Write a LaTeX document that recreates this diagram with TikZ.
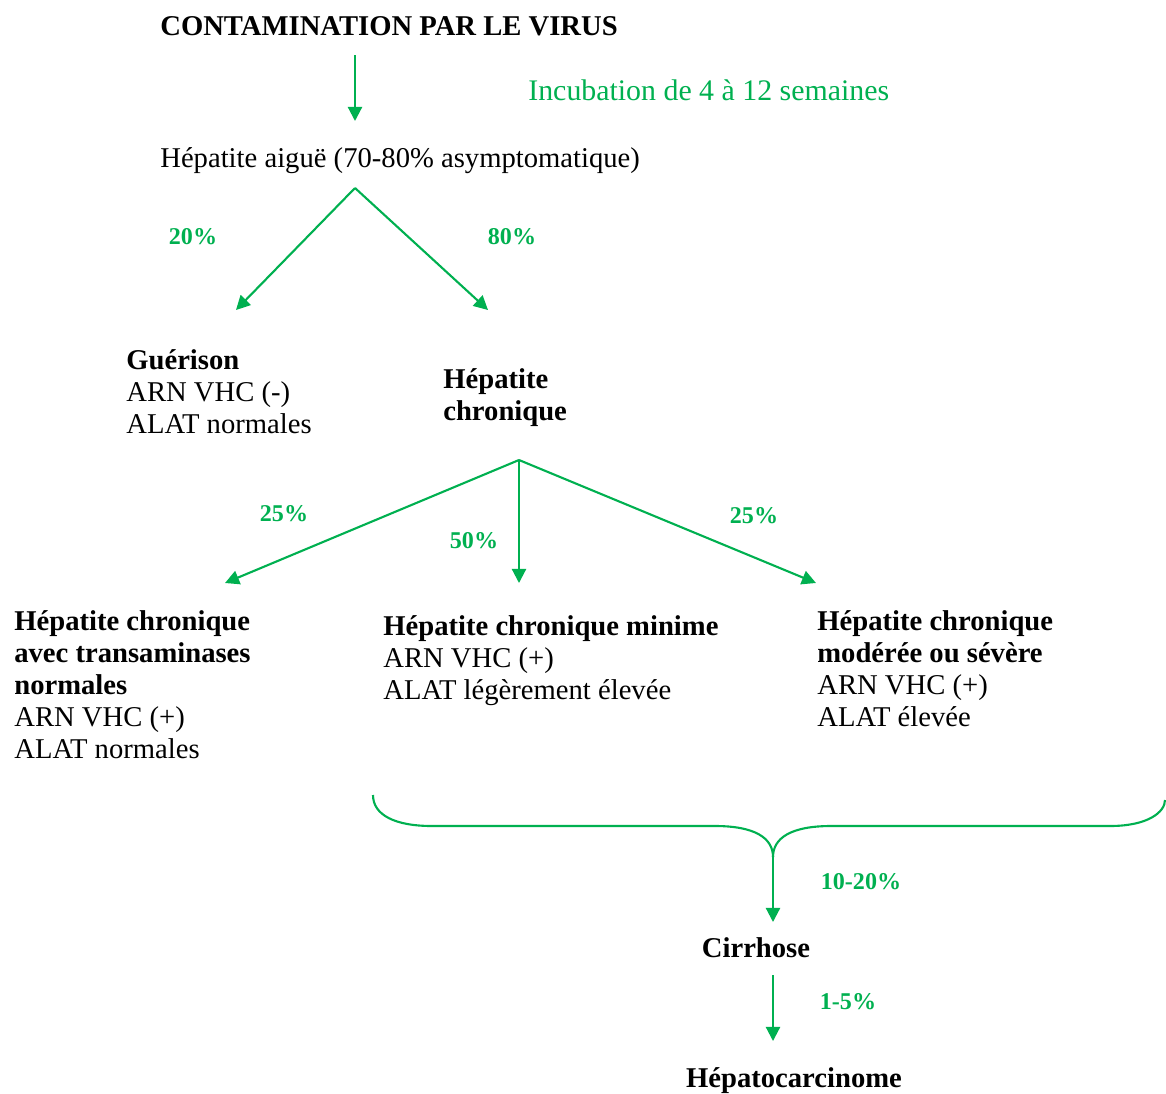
\documentclass[tikz,border=0pt]{standalone}
\usepackage{fontspec}
\setmainfont{Liberation Serif}
\usetikzlibrary{arrows.meta}
\definecolor{vert}{HTML}{00B050}
\tikzset{
  arr/.style={draw=vert, line width=1.2pt, -{Triangle[length=8pt,width=8pt]}},
  txt/.style={font=\fontsize{16.3}{18.2}\selectfont, inner sep=0pt, align=left},
  btxt/.style={txt, font=\fontsize{16.3}{18.2}\selectfont\bfseries},
  pct/.style={font=\fontsize{13.7}{15}\selectfont\bfseries, text=vert, inner sep=0pt},
}
\begin{document}
\begin{tikzpicture}[x=0.02cm, y=-0.02cm]
\useasboundingbox (0,0) rectangle (1166,1093);
% texts
\node[btxt, anchor=base west] (contam) at (160,35){CONTAMINATION PAR LE VIRUS};
\node[txt, anchor=base west, text=vert, font=\fontsize{17}{19}\selectfont] (incub) at (528,100){Incubation de 4 à 12 semaines};
\node[txt, anchor=base west] (aigue) at (160,167){Hépatite aiguë (70-80\% asymptomatique)};
\node[txt, anchor=north west] (guerison) at (126,349){\textbf{Guérison}\\ARN VHC (-)\\ALAT normales};
\node[btxt, anchor=north west] (chronique) at (443,368){Hépatite\\chronique};
\node[txt, anchor=north west] (normale) at (14,610){\textbf{Hépatite chronique}\\\textbf{avec transaminases}\\\textbf{normales}\\ARN VHC (+)\\ALAT normales};
\node[txt, anchor=north west] (minime) at (383,615){\textbf{Hépatite chronique minime}\\ARN VHC (+)\\ALAT légèrement élevée};
\node[txt, anchor=north west] (severe) at (817,610){\textbf{Hépatite chronique}\\\textbf{modérée ou sévère}\\ARN VHC (+)\\ALAT élevée};
\node[btxt, anchor=base] (cirrhose) at (756,957){Cirrhose};
\node[btxt, anchor=base] (carcinome) at (794,1087){Hépatocarcinome};
% pourcentages
\node[pct] (p20) at (193,237){20\%};
\node[pct] (p80) at (512,237){80\%};
\node[pct] (p25a) at (284,514){25\%};
\node[pct] (p50) at (474,541){50\%};
\node[pct] (p25b) at (754,516){25\%};
\node[pct] (p1020) at (861,882){10-20\%};
\node[pct] (p15) at (848,1002){1-5\%};
% points des fleches
\coordinate (virus) at (355,55);
\coordinate (aigueIn) at (355,121);
\coordinate (fork1) at (355,188);
\coordinate (guerIn) at (236,310);
\coordinate (chronIn) at (488,310);
\coordinate (fork2) at (519,460);
\coordinate (normIn) at (225,583);
\coordinate (minIn) at (519,583);
\coordinate (sevIn) at (816,583);
\coordinate (bracetip) at (773,857);
\coordinate (cirrIn) at (773,922);
\coordinate (cirrOut) at (773,975);
\coordinate (carcIn) at (773,1041);
% fleches
\draw[arr](virus) -- (aigueIn);
\draw[arr](fork1) -- (guerIn);
\draw[arr](fork1) -- (chronIn);
\draw[arr](fork2) -- (normIn);
\draw[arr](fork2) -- (minIn);
\draw[arr](fork2) -- (sevIn);
\draw[arr](bracetip) -- (cirrIn);
\draw[arr](cirrOut) -- (carcIn);
% accolade
\draw[vert, line width=1.2pt] (373,795) .. controls (373,815) and (395,826) .. (432,826) -- (715,826) .. controls (755,826) and (773,838) .. (bracetip);
\draw[vert, line width=1.2pt] (bracetip) .. controls (773,838) and (791,826) .. (831,826) -- (1110,826) .. controls (1148,826) and (1165,812) .. (1165,800);
\end{tikzpicture}
\end{document}
